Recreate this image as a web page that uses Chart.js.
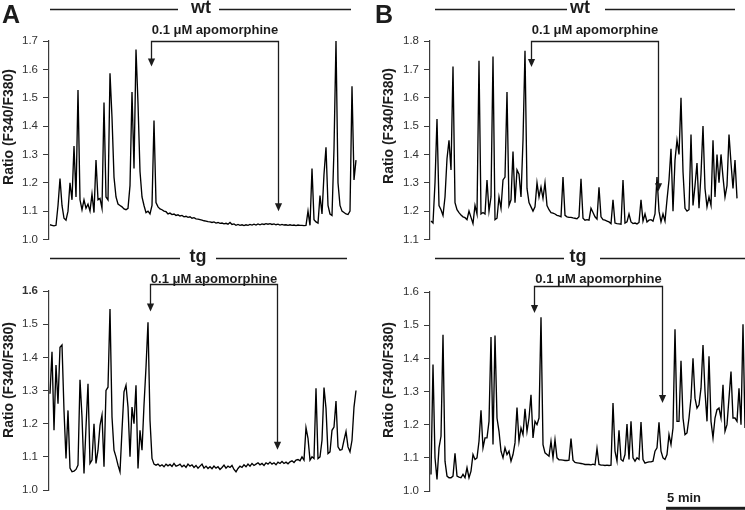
<!DOCTYPE html>
<html>
<head>
<meta charset="utf-8">
<title>Ratio traces – apomorphine</title>
<script src="https://cdn.jsdelivr.net/npm/chart.js@4.4.1/dist/chart.umd.min.js"></script>
<style>
  html, body { margin: 0; padding: 0; background: #fff; }
  #fig { position: relative; width: 745px; height: 510px; overflow: hidden; }
  #fig canvas { position: absolute; }
</style>
</head>
<body>
<div id="fig">
  <canvas id="a-wt" width="372" height="255" style="left:0;top:0"></canvas>
  <canvas id="b-wt" width="373" height="255" style="left:372px;top:0"></canvas>
  <canvas id="a-tg" width="372" height="270" style="left:0;top:240px"></canvas>
  <canvas id="b-tg" width="373" height="270" style="left:372px;top:240px"></canvas>
</div>
<script>
// one F340/F380 frame every 7.6 s
const SAMPLE_MIN = 7.6 / 60;

// ── tick labels ──
const aWtTicks = [1.0, 1.1, 1.2, 1.3, 1.4, 1.5, 1.6, 1.7];
const bWtTicks = [1.1, 1.2, 1.3, 1.4, 1.5, 1.6, 1.7, 1.8];
const aTgTicks = [1.0, 1.1, 1.2, 1.3, 1.4, 1.5, 1.6];
const bTgTicks = [1.0, 1.1, 1.2, 1.3, 1.4, 1.5, 1.6];

// ── ratio traces ──
const aWtRatio = [
  1.052, 1.050, 1.048, 1.050, 1.12, 1.215, 1.12, 1.075, 1.068, 1.10,
  1.20, 1.14, 1.33, 1.15, 1.527, 1.14, 1.105, 1.14, 1.11, 1.125,
  1.10, 1.16, 1.095, 1.28, 1.14, 1.145, 1.11, 1.483, 1.15, 1.14,
  1.586, 1.43, 1.22, 1.15, 1.125, 1.12, 1.115, 1.108, 1.105, 1.11,
  1.19, 1.52, 1.25, 1.67, 1.48, 1.24, 1.15, 1.12, 1.095, 1.10,
  1.09, 1.12, 1.42, 1.13, 1.115, 1.108, 1.105, 1.10, 1.098, 1.09,
  1.093, 1.088, 1.09, 1.085, 1.087, 1.083, 1.085, 1.08, 1.082, 1.078,
  1.08, 1.075, 1.077, 1.073, 1.072, 1.07, 1.068, 1.066, 1.065, 1.063,
  1.062, 1.060, 1.062, 1.058, 1.06, 1.057, 1.058, 1.055, 1.057, 1.054,
  1.06, 1.053, 1.055, 1.05, 1.053, 1.05, 1.052, 1.049, 1.052, 1.05,
  1.053, 1.051, 1.054, 1.051, 1.055, 1.052, 1.055, 1.053, 1.056, 1.054,
  1.056, 1.053, 1.055, 1.052, 1.054, 1.051, 1.053, 1.051, 1.052, 1.05,
  1.052, 1.05, 1.051, 1.049, 1.051, 1.05, 1.05, 1.049, 1.05, 1.10,
  1.05, 1.25, 1.07, 1.062, 1.058, 1.155, 1.09, 1.23, 1.325, 1.12,
  1.09, 1.085, 1.32, 1.70, 1.20, 1.12, 1.10, 1.095, 1.09, 1.088,
  1.10, 1.54, 1.21, 1.28
];
const bWtRatio = [
  1.165, 1.158, 1.30, 1.525, 1.22, 1.205, 1.185, 1.25, 1.385, 1.45,
  1.345, 1.71, 1.23, 1.205, 1.195, 1.186, 1.18, 1.177, 1.17, 1.20,
  1.178, 1.156, 1.22, 1.19, 1.73, 1.19, 1.195, 1.19, 1.31, 1.20,
  1.25, 1.745, 1.17, 1.175, 1.25, 1.21, 1.31, 1.32, 1.62, 1.22,
  1.24, 1.41, 1.23, 1.345, 1.33, 1.25, 1.45, 1.766, 1.28, 1.23,
  1.215, 1.20, 1.215, 1.30, 1.25, 1.285, 1.245, 1.30, 1.22, 1.205,
  1.195, 1.193, 1.19, 1.185, 1.183, 1.18, 1.32, 1.185, 1.18, 1.178,
  1.178, 1.176, 1.175, 1.173, 1.18, 1.314, 1.175, 1.168, 1.17, 1.168,
  1.21, 1.195, 1.18, 1.172, 1.284, 1.18, 1.17, 1.168, 1.165, 1.162,
  1.156, 1.24, 1.158, 1.156, 1.155, 1.154, 1.31, 1.158, 1.162, 1.19,
  1.162, 1.156, 1.158, 1.155, 1.16, 1.24, 1.165, 1.19, 1.162, 1.168,
  1.17, 1.165, 1.19, 1.32, 1.20, 1.162, 1.19, 1.165, 1.24, 1.31,
  1.42, 1.20, 1.38, 1.45, 1.40, 1.60, 1.34, 1.21, 1.20, 1.205,
  1.47, 1.22, 1.29, 1.37, 1.21, 1.33, 1.50, 1.28, 1.215, 1.25,
  1.22, 1.45, 1.25, 1.40, 1.30, 1.40, 1.32, 1.25, 1.29, 1.47,
  1.37, 1.28, 1.38, 1.245
];
const aTgRatio = [
  1.29, 1.417, 1.18, 1.377, 1.26, 1.43, 1.437, 1.24, 1.095, 1.24,
  1.066, 1.055, 1.057, 1.062, 1.075, 1.332, 1.22, 1.05, 1.19, 1.32,
  1.08, 1.09, 1.20, 1.08, 1.12, 1.195, 1.226, 1.07, 1.30, 1.31,
  1.546, 1.22, 1.12, 1.10, 1.075, 1.055, 1.18, 1.296, 1.316, 1.25,
  1.10, 1.25, 1.20, 1.316, 1.065, 1.18, 1.12, 1.256, 1.37, 1.506,
  1.21, 1.095, 1.078, 1.075, 1.078, 1.072, 1.076, 1.070, 1.078, 1.073,
  1.077, 1.071, 1.08, 1.072, 1.074, 1.078, 1.07, 1.075, 1.068, 1.078,
  1.072, 1.076, 1.068, 1.074, 1.066, 1.072, 1.078, 1.066, 1.072, 1.065,
  1.07, 1.064, 1.072, 1.066, 1.07, 1.062, 1.068, 1.075, 1.066, 1.072,
  1.068, 1.074, 1.062, 1.055, 1.065, 1.072, 1.068, 1.076, 1.07, 1.078,
  1.072, 1.08, 1.074, 1.078, 1.082, 1.076, 1.08, 1.074, 1.082, 1.078,
  1.084, 1.078, 1.082, 1.076, 1.084, 1.08, 1.086, 1.08, 1.084, 1.079,
  1.085, 1.088, 1.083, 1.09, 1.092, 1.088, 1.10, 1.09, 1.188, 1.156,
  1.09, 1.10, 1.095, 1.307, 1.095, 1.10, 1.15, 1.309, 1.246, 1.11,
  1.115, 1.18, 1.19, 1.268, 1.13, 1.12, 1.122, 1.15, 1.176, 1.13,
  1.115, 1.15, 1.25, 1.30
];
const bTgRatio = [
  1.05, 1.381, 1.10, 1.035, 1.13, 1.165, 1.471, 1.09, 1.045, 1.04,
  1.04, 1.045, 1.114, 1.045, 1.042, 1.04, 1.05, 1.04, 1.07, 1.04,
  1.06, 1.11, 1.095, 1.10, 1.15, 1.243, 1.13, 1.16, 1.16, 1.21,
  1.464, 1.14, 1.469, 1.22, 1.18, 1.12, 1.10, 1.13, 1.11, 1.12,
  1.09, 1.11, 1.145, 1.252, 1.15, 1.19, 1.17, 1.248, 1.18, 1.22,
  1.29, 1.16, 1.21, 1.20, 1.22, 1.524, 1.14, 1.115, 1.11, 1.105,
  1.15, 1.10, 1.155, 1.10, 1.094, 1.094, 1.093, 1.092, 1.092, 1.093,
  1.158, 1.093, 1.086, 1.085, 1.084, 1.083, 1.082, 1.08, 1.08, 1.08,
  1.079, 1.081, 1.079, 1.128, 1.08, 1.078, 1.078, 1.077, 1.078, 1.077,
  1.078, 1.265, 1.12, 1.09, 1.183, 1.095, 1.09, 1.11, 1.202, 1.095,
  1.21, 1.10, 1.09, 1.10, 1.095, 1.208, 1.095, 1.084, 1.086, 1.088,
  1.088, 1.09, 1.12, 1.13, 1.207, 1.12, 1.10, 1.095, 1.11, 1.17,
  1.14, 1.19, 1.488, 1.21, 1.21, 1.393, 1.22, 1.17, 1.175, 1.22,
  1.28, 1.40, 1.28, 1.25, 1.26, 1.31, 1.44, 1.30, 1.21, 1.406,
  1.21, 1.16, 1.22, 1.245, 1.25, 1.22, 1.32, 1.18, 1.20, 1.28,
  1.36, 1.22, 1.22, 1.21, 1.31, 1.20, 1.503, 1.19
];

const FONT = "'Liberation Sans', Arial, Helvetica, sans-serif";
const INK = '#1c1c1c';
const AXIS = '#3a3a3a';

function arrowHead(ctx, x, yTip) {
  ctx.beginPath();
  ctx.moveTo(x, yTip);
  ctx.lineTo(x - 3.6, yTip - 8);
  ctx.lineTo(x + 3.6, yTip - 8);
  ctx.closePath();
  ctx.fill();
}

// panel letter, genotype header, y title, drug bracket, time bar
const figureMarks = {
  id: 'figureMarks',
  afterDraw(chart, args, o) {
    const { ctx } = chart;
    const xs = chart.scales.x, ys = chart.scales.y;
    const px = (i) => xs.getPixelForValue(i * SAMPLE_MIN);
    const py = (v) => ys.getPixelForValue(v);
    ctx.save();
    ctx.fillStyle = INK;
    ctx.strokeStyle = INK;

    if (o.letter) {
      ctx.font = `bold 25px ${FONT}`;
      ctx.textAlign = 'left';
      ctx.textBaseline = 'alphabetic';
      ctx.fillText(o.letter.text, o.letter.x, 23.3);
    }

    const h = o.header;
    ctx.lineWidth = 1.3;
    ctx.beginPath();
    ctx.moveTo(h.segs[0], h.y); ctx.lineTo(h.segs[1], h.y);
    ctx.moveTo(h.segs[2], h.y); ctx.lineTo(h.segs[3], h.y);
    ctx.stroke();
    ctx.font = `bold 18px ${FONT}`;
    ctx.textAlign = 'center';
    ctx.textBaseline = 'alphabetic';
    ctx.fillText(h.text, h.tx, h.base);

    ctx.save();
    ctx.translate(o.yTitle.x, o.yTitle.y);
    ctx.rotate(-Math.PI / 2);
    ctx.font = `bold 14px ${FONT}`;
    ctx.textAlign = 'center';
    ctx.textBaseline = 'middle';
    ctx.fillText('Ratio (F340/F380)', 0, 0);
    ctx.restore();

    const b = o.bracket;
    const x1 = Math.round(px(b.from)) + 0.5, x2 = Math.round(px(b.to)) + 0.5;
    const yb = Math.round(py(b.bar)) + 0.5;
    const t1 = py(b.tipFrom), t2 = py(b.tipTo);
    ctx.lineWidth = 1.3;
    ctx.beginPath();
    ctx.moveTo(x1, t1 - 7);
    ctx.lineTo(x1, yb);
    ctx.lineTo(x2, yb);
    ctx.lineTo(x2, t2 - 7);
    ctx.stroke();
    arrowHead(ctx, x1, t1);
    arrowHead(ctx, x2, t2);
    ctx.font = `bold 13px ${FONT}`;
    ctx.textAlign = 'center';
    ctx.textBaseline = 'middle';
    ctx.fillText('0.1 \u03bcM apomorphine', (x1 + x2) / 2, py(b.label));

    if (o.timeBar) {
      const tb = o.timeBar;
      const right = xs.right;
      const left = right - (xs.getPixelForValue(tb.minutes) - xs.getPixelForValue(0));
      ctx.fillRect(left, tb.y - 1.5, right - left, 3);
      ctx.font = `bold 13px ${FONT}`;
      ctx.textAlign = 'left';
      ctx.textBaseline = 'alphabetic';
      ctx.fillText(`${tb.minutes} min`, left + 1, tb.base);
    }
    ctx.restore();
  },
};

function makePanel(p) {
  const canvas = document.getElementById(p.id);
  const W = canvas.width;
  const xMin = -0.5 * SAMPLE_MIN;
  const xMax = xMin + (p.plotW / 2) * SAMPLE_MIN;
  const points = p.series.map((v, i) => ({ x: i * SAMPLE_MIN, y: v }));
  const top = p.ticks[p.ticks.length - 1];

  return new Chart(canvas, {
    type: 'line',
    data: {
      datasets: [{
        data: points,
        borderColor: '#000',
        borderWidth: 1.35,
        pointRadius: 0,
        tension: 0,
        fill: false,
      }],
    },
    options: {
      responsive: false,
      animation: false,
      events: [],
      layout: { padding: { top: p.padTop, bottom: p.padBottom, left: 0, right: W - p.axisX - p.plotW } },
      plugins: {
        legend: { display: false },
        tooltip: { enabled: false },
        figureMarks: p.marks,
      },
      scales: {
        x: { type: 'linear', display: false, min: xMin, max: xMax },
        y: {
          min: p.ticks[0],
          max: top,
          afterFit: (s) => { s.width = p.axisX; },
          afterBuildTicks: (s) => { s.ticks = p.ticks.map((v) => ({ value: v })); },
          ticks: {
            padding: 5,
            color: '#333',
            font: (c) => ({
              family: FONT,
              size: 11.5,
              weight: p.boldTop && c.tick && c.tick.value === top ? 'bold' : 'normal',
            }),
            callback: (v) => Number(v).toFixed(1),
          },
          grid: { drawOnChartArea: false, drawTicks: true, tickLength: 6, color: AXIS, lineWidth: 1 },
          border: { display: true, color: AXIS, width: 1.2 },
        },
      },
    },
    plugins: [figureMarks],
  });
}

makePanel({
  id: 'a-wt', series: aWtRatio, ticks: aWtTicks,
  axisX: 49, plotW: 308, padTop: 41, padBottom: 15.5,
  marks: {
    letter: { text: 'A', x: 2 },
    header: { text: 'wt', y: 9.5, base: 13, segs: [50, 178, 219, 351], tx: 201 },
    yTitle: { x: 9, y: 127 },
    bracket: { from: 50.3, to: 114, bar: 1.70, tipFrom: 1.61, tipTo: 1.10, label: 1.739 },
  },
});

makePanel({
  id: 'b-wt', series: bWtRatio, ticks: bWtTicks,
  axisX: 58, plotW: 308, padTop: 41, padBottom: 15.5,
  marks: {
    letter: { text: 'B', x: 3 },
    header: { text: 'wt', y: 9.5, base: 13, segs: [63, 195, 233, 363], tx: 208 },
    yTitle: { x: 16.7, y: 126 },
    bracket: { from: 50, to: 113.6, bar: 1.80, tipFrom: 1.708, tipTo: 1.27, label: 1.839 },
  },
});

makePanel({
  id: 'a-tg', series: aTgRatio, ticks: aTgTicks, boldTop: true,
  axisX: 49, plotW: 308, padTop: 51, padBottom: 20,
  marks: {
    header: { text: 'tg', y: 18.5, base: 22, segs: [50, 180, 216, 347], tx: 198 },
    yTitle: { x: 9, y: 140 },
    bracket: { from: 50, to: 113.5, bar: 1.62, tipFrom: 1.538, tipTo: 1.121, label: 1.636 },
  },
});

makePanel({
  id: 'b-tg', series: bTgRatio, ticks: bTgTicks,
  axisX: 58, plotW: 315, padTop: 52, padBottom: 19,
  marks: {
    header: { text: 'tg', y: 18.5, base: 22, segs: [63, 192, 228, 373], tx: 206 },
    yTitle: { x: 16.7, y: 140 },
    bracket: { from: 51.5, to: 115.5, bar: 1.617, tipFrom: 1.537, tipTo: 1.265, label: 1.637 },
    timeBar: { minutes: 5, y: 268.3, base: 262 },
  },
});
</script>
</body>
</html>
